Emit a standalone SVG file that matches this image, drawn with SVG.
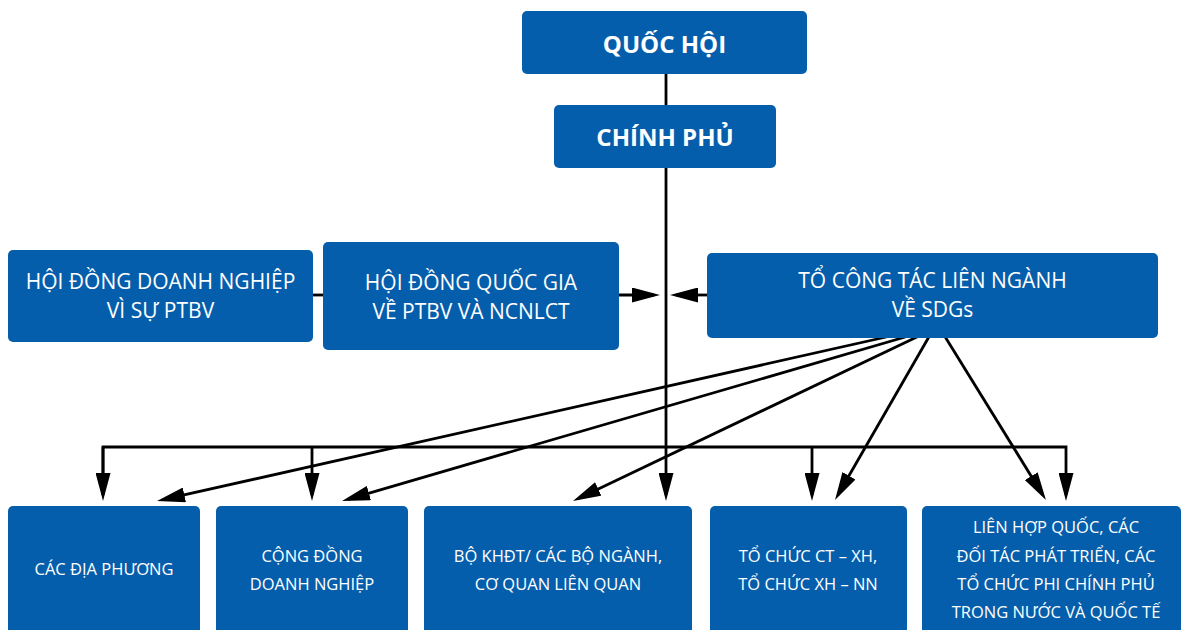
<svg xmlns="http://www.w3.org/2000/svg" width="1189" height="630" viewBox="0 0 1189 630">
<style>
.box{fill:#055eab;}
.t{font-family:"Open Sans","Liberation Sans",sans-serif;fill:#ffffff;text-anchor:middle;}
.tb{font-weight:bold;font-size:24px;}
.tm{font-size:21px;}
.ts{font-size:16.5px;}
.ln{stroke:#000;stroke-width:2.8;fill:none;}
</style>
<defs>
<marker id="ah" markerUnits="userSpaceOnUse" viewBox="0 0 28 15" markerWidth="28" markerHeight="15" refX="22" refY="7.5" orient="auto">
<path d="M0,0 L28,7.5 L0,15 z" fill="#000"/>
</marker>
</defs>
<g id="connectors">
<line class="ln" x1="666" y1="74" x2="666" y2="495" marker-end="url(#ah)"/>
<polyline class="ln" points="103,495 103,447 1066,447 1066,495" marker-end="url(#ah)"/>
<line class="ln" x1="103" y1="447" x2="103" y2="495" marker-end="url(#ah)"/>
<line class="ln" x1="312" y1="447" x2="312" y2="495" marker-end="url(#ah)"/>
<line class="ln" x1="812" y1="447" x2="812" y2="495" marker-end="url(#ah)"/>
<line class="ln" x1="313" y1="295" x2="323" y2="295"/>
<line class="ln" x1="619" y1="295" x2="654" y2="295" marker-end="url(#ah)"/>
<line class="ln" x1="708" y1="295" x2="676" y2="295" marker-end="url(#ah)"/>
<line class="ln" x1="895" y1="335" x2="162.9" y2="499.7" marker-end="url(#ah)"/>
<line class="ln" x1="912" y1="335" x2="347.8" y2="499.3" marker-end="url(#ah)"/>
<line class="ln" x1="921" y1="335" x2="578.4" y2="498.4" marker-end="url(#ah)"/>
<line class="ln" x1="930" y1="335" x2="838" y2="494.8" marker-end="url(#ah)"/>
<line class="ln" x1="944" y1="335" x2="1042.8" y2="494.9" marker-end="url(#ah)"/>
</g>
<g id="quoc-hoi">
<rect class="box" x="522" y="11" width="285" height="63" rx="5"/>
<text class="t tb" x="664.5" y="53">QUỐC HỘI</text>
</g>
<g id="chinh-phu">
<rect class="box" x="554" y="105" width="222" height="63" rx="5"/>
<text class="t tb" x="665" y="146">CHÍNH PHỦ</text>
</g>
<g id="hd-doanh-nghiep">
<rect class="box" x="8" y="250" width="305" height="92" rx="5"/>
<text class="t tm" x="160.5" y="289">HỘI ĐỒNG DOANH NGHIỆP</text>
<text class="t tm" x="160.5" y="318">VÌ SỰ PTBV</text>
</g>
<g id="hd-quoc-gia">
<rect class="box" x="323" y="242" width="296" height="108" rx="5"/>
<text class="t tm" x="471" y="290">HỘI ĐỒNG QUỐC GIA</text>
<text class="t tm" x="471" y="319">VỀ PTBV VÀ NCNLCT</text>
</g>
<g id="to-cong-tac">
<rect class="box" x="707" y="253" width="451" height="85" rx="5"/>
<text class="t tm" x="932.5" y="288">TỔ CÔNG TÁC LIÊN NGÀNH</text>
<text class="t tm" x="932.5" y="317">VỀ SDGs</text>
</g>
<g id="cac-dia-phuong">
<rect class="box" x="8" y="506" width="192" height="130" rx="5"/>
<text class="t ts" x="104" y="575">CÁC ĐỊA PHƯƠNG</text>
</g>
<g id="cong-dong-dn">
<rect class="box" x="216" y="506" width="192" height="130" rx="5"/>
<text class="t ts" x="312" y="562">CỘNG ĐỒNG</text>
<text class="t ts" x="312" y="590">DOANH NGHIỆP</text>
</g>
<g id="bo-khdt">
<rect class="box" x="424" y="506" width="268" height="130" rx="5"/>
<text class="t ts" x="558" y="562">BỘ KHĐT/ CÁC BỘ NGÀNH,</text>
<text class="t ts" x="558" y="590">CƠ QUAN LIÊN QUAN</text>
</g>
<g id="to-chuc-ct-xh">
<rect class="box" x="710" y="506" width="197" height="130" rx="5"/>
<text class="t ts" x="808" y="562">TỔ CHỨC CT – XH,</text>
<text class="t ts" x="808" y="590">TỔ CHỨC XH – NN</text>
</g>
<g id="lien-hop-quoc">
<rect class="box" x="922" y="506" width="259" height="130" rx="5"/>
<text class="t ts" x="1056" y="533">LIÊN HỢP QUỐC, CÁC</text>
<text class="t ts" x="1056" y="562">ĐỐI TÁC PHÁT TRIỂN, CÁC</text>
<text class="t ts" x="1056" y="590">TỔ CHỨC PHI CHÍNH PHỦ</text>
<text class="t ts" x="1056" y="618">TRONG NƯỚC VÀ QUỐC TẾ</text>
</g>
</svg>
